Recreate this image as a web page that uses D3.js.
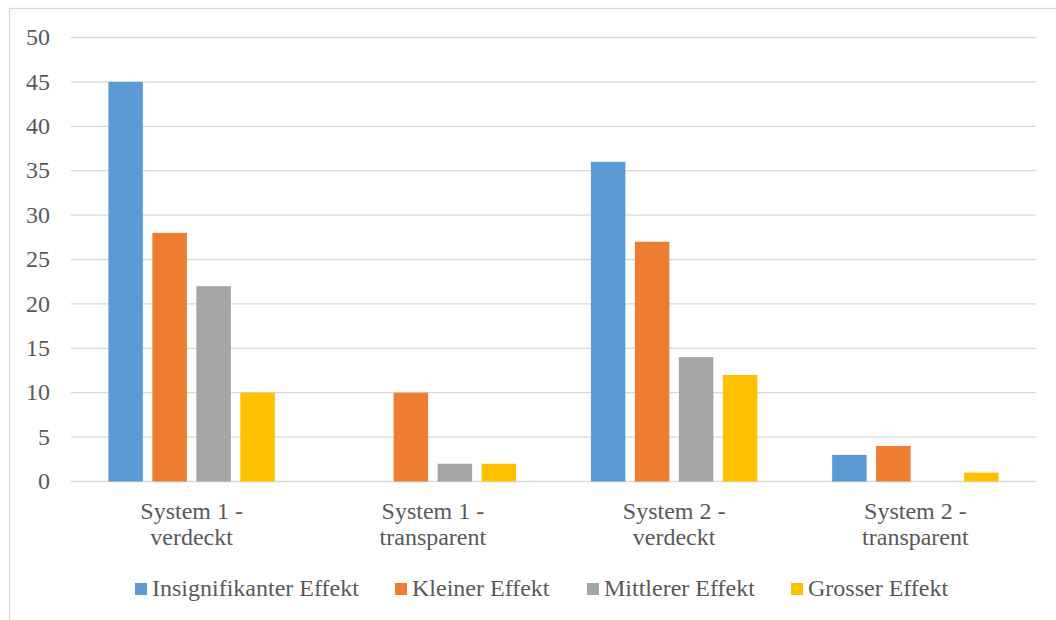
<!DOCTYPE html>
<html lang="de">
<head>
<meta charset="UTF-8" />
<title>Effekte nach System</title>
<style>
  body { margin: 0; background: #fff; }
  svg text { font-family: "Liberation Serif", serif !important; }
</style>
</head>
<body>
<script src="https://cdn.jsdelivr.net/npm/d3@7"></script>
<script>
// data
var categories = [["System 1 -", "verdeckt"], ["System 1 -", "transparent"],
                  ["System 2 -", "verdeckt"], ["System 2 -", "transparent"]];
var seriesNames = ["Insignifikanter Effekt", "Kleiner Effekt", "Mittlerer Effekt", "Grosser Effekt"];
var insignifikant = [45, 0, 36, 3];
var klein = [28, 10, 27, 4];
var mittel = [22, 2, 14, 0];
var gross = [10, 2, 12, 1];
var yTicks = [0, 5, 10, 15, 20, 25, 30, 35, 40, 45, 50];

var colors = ["#5B9BD5", "#ED7D31", "#A5A5A5", "#FFC000"];
var seriesValues = [insignifikant, klein, mittel, gross];
var FONT = "'Liberation Serif', serif";

var width = 1056, height = 620;
var plot = { left: 71, right: 1036, top: 37.5, bottom: 481.5 };

var svg = d3.select("body").append("svg")
  .attr("width", width)
  .attr("height", height)
  .style("display", "block");

// chart frame (only top and left visible)
svg.append("rect")
  .attr("x", 9.5).attr("y", 8.5)
  .attr("width", 1060).attr("height", 640)
  .attr("fill", "none")
  .attr("stroke", "#D9D9D9")
  .attr("stroke-width", 1.3);

var catIdx = d3.range(categories.length);
var x0 = d3.scaleBand()
  .domain(catIdx)
  .range([plot.left, plot.right]);

var x1 = d3.scaleBand()
  .domain(d3.range(seriesNames.length))
  .range([0, x0.bandwidth()])
  .paddingInner(0.216)
  .paddingOuter(0.85);

var y = d3.scaleLinear()
  .domain([0, 50])
  .range([plot.bottom, plot.top]);

// gridlines
svg.append("g")
  .selectAll("line")
  .data(yTicks)
  .enter()
  .append("line")
  .attr("x1", plot.left)
  .attr("x2", plot.right)
  .attr("y1", function(d) { return y(d); })
  .attr("y2", function(d) { return y(d); })
  .attr("stroke", "#D9D9D9")
  .attr("stroke-width", 1.3);

// y labels
var yAxis = d3.axisLeft(y).tickValues(yTicks).tickSize(0).tickPadding(0);
var yg = svg.append("g")
  .attr("transform", "translate(50,0)")
  .call(yAxis);
yg.select(".domain").remove();
yg.selectAll("text")
  .style("font-family", FONT, "important")
  .style("font-size", "24px")
  .style("fill", "#595959")
  .attr("dy", "0.3em");

// bars
var groups = svg.append("g")
  .selectAll("g")
  .data(seriesValues)
  .enter()
  .append("g")
  .attr("fill", function(d, i) { return colors[i]; });

groups.each(function(vals, s) {
  d3.select(this).selectAll("rect")
    .data(vals)
    .enter()
    .append("rect")
    .attr("x", function(d, i) { return x0(i) + x1(s); })
    .attr("y", function(d) { return y(d); })
    .attr("width", x1.bandwidth())
    .attr("height", function(d) { return y(0) - y(d); });
});

// category labels
var cat = svg.append("g")
  .selectAll("text")
  .data(categories)
  .enter()
  .append("text")
  .attr("text-anchor", "middle")
  .style("font-family", FONT, "important")
  .style("font-size", "24px")
  .style("fill", "#595959")
  .attr("transform", function(d, i) {
    return "translate(" + (x0(i) + x0.bandwidth() / 2) + ",519)";
  });
cat.append("tspan")
  .attr("x", 0).attr("y", 0)
  .text(function(d) { return d[0]; });
cat.append("tspan")
  .attr("x", 0).attr("y", 26)
  .text(function(d) { return d[1]; });

// legend
var legendX = [135, 395, 587, 791];
var legend = svg.append("g")
  .selectAll("g")
  .data(seriesNames)
  .enter()
  .append("g")
  .attr("transform", function(d, i) { return "translate(" + legendX[i] + ",583)"; });
legend.append("rect")
  .attr("width", 12)
  .attr("height", 12)
  .attr("fill", function(d, i) { return colors[i]; });
legend.append("text")
  .attr("x", 17)
  .attr("y", 13)
  .style("font-family", FONT, "important")
  .style("font-size", "24px")
  .style("fill", "#595959")
  .text(function(d) { return d; });
</script>
</body>
</html>
